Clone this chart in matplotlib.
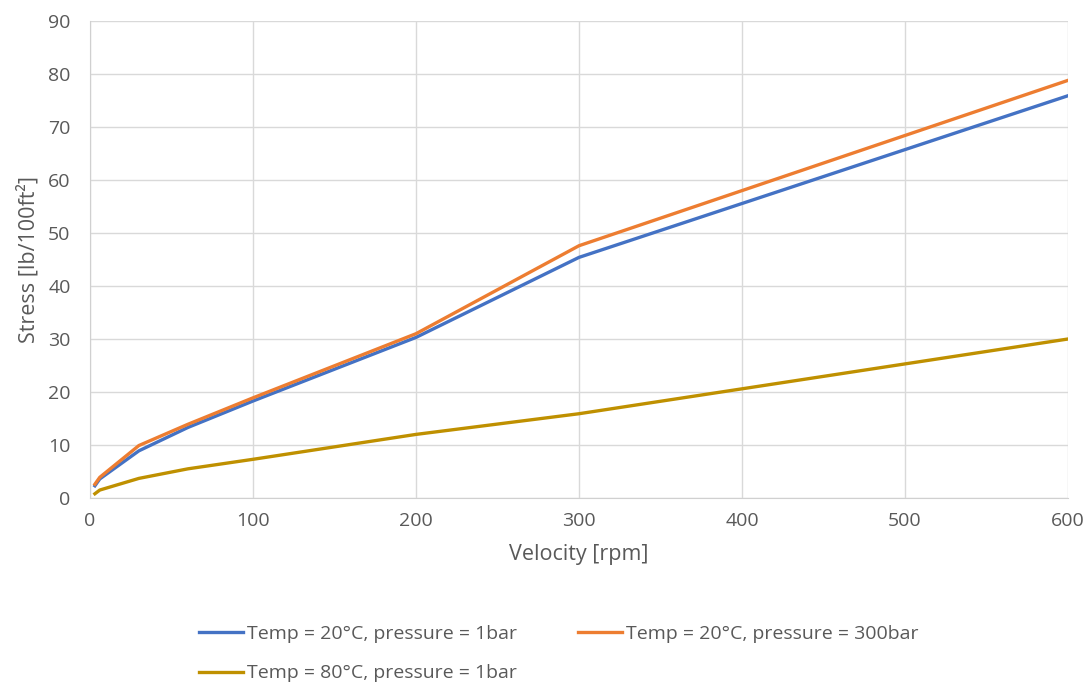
import matplotlib.pyplot as plt

# rheometer readings
velocity = [3, 6, 30, 60, 100, 200, 300, 600]
stress_20c_1bar = [2.3, 3.6, 8.9, 13.3, 18.3, 30.3, 45.4, 75.9]
stress_20c_300bar = [2.6, 3.9, 9.9, 13.9, 18.9, 31.0, 47.6, 78.8]
stress_80c_1bar = [0.8, 1.5, 3.7, 5.5, 7.3, 12.0, 15.9, 30.0]

labels = ['Temp = 20°C, pressure = 1bar',
          'Temp = 20°C, pressure = 300bar',
          'Temp = 80°C, pressure = 1bar']
colors = ['#4472C4', '#ED7D31', '#BF9000']

plt.rcParams['font.family'] = ['Open Sans', 'DejaVu Sans']

fig = plt.figure(figsize=(10.89, 6.97), dpi=100)
ax = fig.add_axes([90/1089, (697-498)/697, (1068-90)/1089, (498-21)/697])

series = [stress_20c_1bar, stress_20c_300bar, stress_80c_1bar]
lines = []
for vals, lab, col in zip(series, labels, colors):
    ln, = ax.plot(velocity, vals, color=col, linewidth=2.4, label=lab)
    lines.append(ln)

ax.set_xlim(0, 600)
ax.set_ylim(0, 90)
ax.set_xticks(range(0, 601, 100))
ax.set_yticks(range(0, 91, 10))
ax.grid(True, color='#d9d9d9', linewidth=1)
ax.set_axisbelow(True)
ax.tick_params(axis='y', length=0, labelsize=14, colors='#595959', pad=14)
ax.tick_params(axis='x', length=0, labelsize=14, colors='#595959', pad=10)
for s in ['top', 'right']:
    ax.spines[s].set_visible(False)
for s in ['left', 'bottom']:
    ax.spines[s].set_color('#d0d0d0')

ax.set_xlabel('Velocity [rpm]', fontsize=15.5, color='#595959', labelpad=10)
ax.set_ylabel('Stress [lb/100ft²]', fontsize=15.5, color='#595959', labelpad=6)

# legend fills column-wise, so reorder to get row-wise reading
order = [0, 2, 1]
fig.legend([lines[i] for i in order], [labels[i] for i in order],
           loc='center', bbox_to_anchor=(0.513, 0.062), ncol=2, frameon=False,
           fontsize=14, handlelength=2.3, columnspacing=3.1, labelcolor='#595959',
           handletextpad=0.2, labelspacing=1.1)

plt.savefig('out.png', dpi=100)
